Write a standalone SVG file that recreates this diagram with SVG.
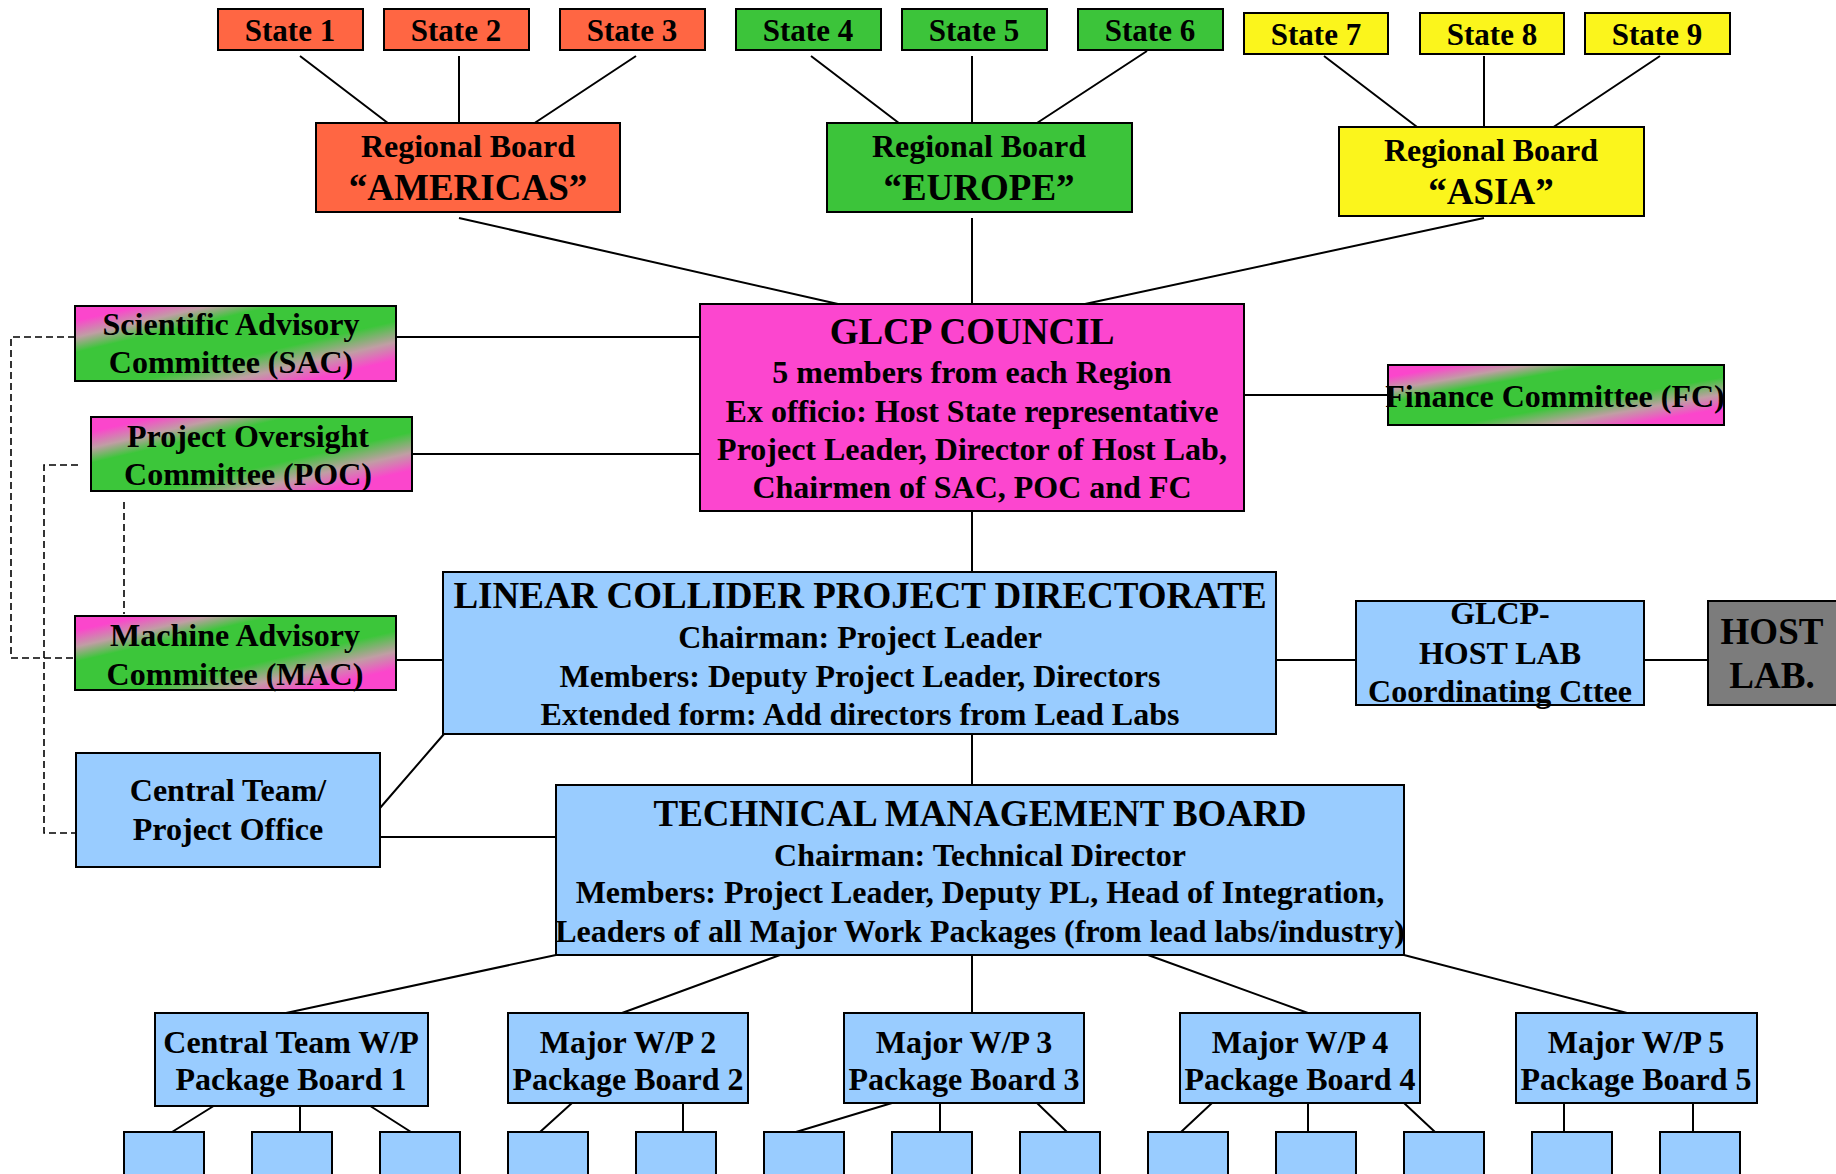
<svg xmlns="http://www.w3.org/2000/svg" width="1836" height="1174" viewBox="0 0 1836 1174">
  <style>
    rect { stroke: #000; stroke-width: 2; }
    .red { fill: #ff6643; }
    .grn { fill: #3cc43a; }
    .yel { fill: #fbf51c; }
    .pnk { fill: #fc46cf; }
    .blu { fill: #99ccff; }
    .gry { fill: #7c7c7c; }
    .mix { fill: url(#pinkGreen); }
    text { font-family: "Liberation Serif", "Times New Roman", serif; font-weight: bold; fill: #000; text-anchor: middle; }
    .s { font-size: 31px; }
    .b { font-size: 32px; }
    .t { font-size: 37px; }
    .ln { stroke: #000; stroke-width: 2; fill: none; }
    .dash { stroke: #000; stroke-width: 1.6; fill: none; stroke-dasharray: 7 4; }
  </style>
  <defs>
    <!-- diagonal pink / green / pink banding used by the committees -->
    <linearGradient id="pinkGreen" x1="0" y1="0" x2="1" y2="1">
      <stop offset="0" stop-color="#fb46cc"/>
      <stop offset="0.1" stop-color="#fb46cc"/>
      <stop offset="0.21" stop-color="#c09ea4"/>
      <stop offset="0.31" stop-color="#3cc63a"/>
      <stop offset="0.6" stop-color="#3cc63a"/>
      <stop offset="0.74" stop-color="#c09ea4"/>
      <stop offset="0.86" stop-color="#fb46cc"/>
      <stop offset="1" stop-color="#fb46cc"/>
    </linearGradient>
  </defs>

  <!-- connectors -->
  <g id="connectors">
    <!-- states to regional boards -->
    <path class="ln" d="M300,56 L397,130 M459,56 V130 M636,56 L524,130"/>
    <path class="ln" d="M811,56 L908,130 M972,56 V130 M1147,51 L1037,123"/>
    <path class="ln" d="M1324,56 L1421,130 M1484,56 V130 M1660,56 L1549,130"/>
    <!-- regional boards to council -->
    <path class="ln" d="M459,218 L838,304 M972,218 V304 M1484,218 L1085,304"/>
    <!-- committees to council -->
    <path class="ln" d="M396,337 H700 M395,454 H700 M1244,395 H1388"/>
    <!-- council to directorate, directorate links -->
    <path class="ln" d="M972,511 V572 M396,660 H443 M1276,660 H1356 M1644,660 H1708"/>
    <!-- directorate / central team / TMB -->
    <path class="ln" d="M380,808 L444,734 M380,837 H556 M972,734 V785"/>
    <!-- TMB to work packages -->
    <path class="ln" d="M556,955 L286,1013 M780,955 L622,1013 M972,955 V1013 M1148,955 L1308,1013 M1404,955 L1627,1013"/>
    <!-- work packages to sub-packages -->
    <path class="ln" d="M220,1102 L172,1132 M300,1102 V1132 M364,1102 L411,1132"/>
    <path class="ln" d="M572,1103 L540,1132 M683,1103 V1132"/>
    <path class="ln" d="M892,1103 L796,1132 M940,1093 V1132 M1037,1103 L1067,1132"/>
    <path class="ln" d="M1212,1103 L1181,1132 M1308,1103 V1132 M1404,1103 L1435,1132"/>
    <path class="ln" d="M1564,1103 V1132 M1693,1103 V1132"/>
    <!-- advisory dotted links -->
    <path class="dash" d="M75,337 H11 V658 H75"/>
    <path class="dash" d="M78,465 H44 V833 H76"/>
    <path class="dash" d="M124,502 V614"/>
  </g>

  <!-- states -->
  <g id="state1"><rect class="red" x="218" y="9" width="145" height="41"/><text class="s" x="290" y="41">State 1</text></g>
  <g id="state2"><rect class="red" x="384" y="9" width="145" height="41"/><text class="s" x="456" y="41">State 2</text></g>
  <g id="state3"><rect class="red" x="560" y="9" width="145" height="41"/><text class="s" x="632" y="41">State 3</text></g>
  <g id="state4"><rect class="grn" x="736" y="9" width="145" height="41"/><text class="s" x="808" y="41">State 4</text></g>
  <g id="state5"><rect class="grn" x="902" y="9" width="145" height="41"/><text class="s" x="974" y="41">State 5</text></g>
  <g id="state6"><rect class="grn" x="1078" y="9" width="145" height="41"/><text class="s" x="1150" y="41">State 6</text></g>
  <g id="state7"><rect class="yel" x="1244" y="13" width="144" height="41"/><text class="s" x="1316" y="45">State 7</text></g>
  <g id="state8"><rect class="yel" x="1420" y="13" width="144" height="41"/><text class="s" x="1492" y="45">State 8</text></g>
  <g id="state9"><rect class="yel" x="1585" y="13" width="145" height="41"/><text class="s" x="1657" y="45">State 9</text></g>

  <!-- regional boards -->
  <g id="board-americas"><rect class="red" x="316" y="123" width="304" height="89"/>
    <text class="b" x="468" y="157">Regional Board</text><text class="t" x="468" y="200">“AMERICAS”</text></g>
  <g id="board-europe"><rect class="grn" x="827" y="123" width="305" height="89"/>
    <text class="b" x="979" y="157">Regional Board</text><text class="t" x="979" y="200">“EUROPE”</text></g>
  <g id="board-asia"><rect class="yel" x="1339" y="127" width="305" height="89"/>
    <text class="b" x="1491" y="161">Regional Board</text><text class="t" x="1491" y="204">“ASIA”</text></g>

  <!-- council -->
  <g id="council"><rect class="pnk" x="700" y="304" width="544" height="207"/>
    <text class="t" x="972" y="344">GLCP COUNCIL</text>
    <text class="b" x="972" y="383">5 members from each Region</text>
    <text class="b" x="972" y="422">Ex officio: Host State representative</text>
    <text class="b" x="972" y="460">Project Leader, Director of Host Lab,</text>
    <text class="b" x="972" y="498">Chairmen of SAC, POC and FC</text></g>

  <!-- committees -->
  <g id="sac"><rect class="mix" x="75" y="306" width="321" height="75"/>
    <text class="b" x="231" y="335">Scientific Advisory</text><text class="b" x="231" y="373">Committee (SAC)</text></g>
  <g id="poc"><rect class="mix" x="91" y="417" width="321" height="74"/>
    <text class="b" x="248" y="447">Project Oversight</text><text class="b" x="248" y="485">Committee (POC)</text></g>
  <g id="mac"><rect class="mix" x="75" y="616" width="321" height="74"/>
    <text class="b" x="235" y="646">Machine Advisory</text><text class="b" x="235" y="685">Committee (MAC)</text></g>
  <g id="fc"><rect class="mix" x="1388" y="365" width="336" height="60"/>
    <text class="b" x="1555" y="407">Finance Committee (FC)</text></g>

  <!-- directorate -->
  <g id="directorate"><rect class="blu" x="443" y="572" width="833" height="162"/>
    <text class="t" x="860" y="608">LINEAR COLLIDER PROJECT DIRECTORATE</text>
    <text class="b" x="860" y="648">Chairman: Project Leader</text>
    <text class="b" x="860" y="687">Members: Deputy Project Leader, Directors</text>
    <text class="b" x="860" y="725">Extended form: Add directors from Lead Labs</text></g>

  <g id="host-coord"><rect class="blu" x="1356" y="601" width="288" height="104"/>
    <text class="b" x="1500" y="624">GLCP-</text>
    <text class="b" x="1500" y="664">HOST LAB</text>
    <text class="b" x="1500" y="702">Coordinating Cttee</text></g>

  <g id="host-lab"><rect class="gry" x="1708" y="601" width="140" height="104"/>
    <text class="t" x="1772" y="644">HOST</text>
    <text class="t" x="1772" y="688">LAB.</text></g>

  <g id="central-team"><rect class="blu" x="76" y="753" width="304" height="114"/>
    <text class="b" x="228" y="801">Central Team/</text>
    <text class="b" x="228" y="840">Project Office</text></g>

  <!-- technical management board -->
  <g id="tmb"><rect class="blu" x="556" y="785" width="848" height="170"/>
    <text class="t" x="980" y="826">TECHNICAL MANAGEMENT BOARD</text>
    <text class="b" x="980" y="866">Chairman: Technical Director</text>
    <text class="b" x="980" y="903">Members: Project Leader, Deputy PL, Head of Integration,</text>
    <text class="b" x="980" y="942">Leaders of all Major Work Packages (from lead labs/industry)</text></g>

  <!-- work package boards -->
  <g id="wp1"><rect class="blu" x="155" y="1013" width="273" height="93"/>
    <text class="b" x="291" y="1053">Central Team W/P</text><text class="b" x="291" y="1090">Package Board 1</text></g>
  <g id="wp2"><rect class="blu" x="508" y="1013" width="240" height="90"/>
    <text class="b" x="628" y="1053">Major W/P 2</text><text class="b" x="628" y="1090">Package Board 2</text></g>
  <g id="wp3"><rect class="blu" x="844" y="1013" width="240" height="90"/>
    <text class="b" x="964" y="1053">Major W/P 3</text><text class="b" x="964" y="1090">Package Board 3</text></g>
  <g id="wp4"><rect class="blu" x="1180" y="1013" width="240" height="90"/>
    <text class="b" x="1300" y="1053">Major W/P 4</text><text class="b" x="1300" y="1090">Package Board 4</text></g>
  <g id="wp5"><rect class="blu" x="1516" y="1013" width="241" height="90"/>
    <text class="b" x="1636" y="1053">Major W/P 5</text><text class="b" x="1636" y="1090">Package Board 5</text></g>

  <!-- sub-package boxes -->
  <g id="sub1"><rect class="blu" x="124" y="1132" width="80" height="60"/></g>
  <g id="sub2"><rect class="blu" x="252" y="1132" width="80" height="60"/></g>
  <g id="sub3"><rect class="blu" x="380" y="1132" width="80" height="60"/></g>
  <g id="sub4"><rect class="blu" x="508" y="1132" width="80" height="60"/></g>
  <g id="sub5"><rect class="blu" x="636" y="1132" width="80" height="60"/></g>
  <g id="sub6"><rect class="blu" x="764" y="1132" width="80" height="60"/></g>
  <g id="sub7"><rect class="blu" x="892" y="1132" width="80" height="60"/></g>
  <g id="sub8"><rect class="blu" x="1020" y="1132" width="80" height="60"/></g>
  <g id="sub9"><rect class="blu" x="1148" y="1132" width="80" height="60"/></g>
  <g id="sub10"><rect class="blu" x="1276" y="1132" width="80" height="60"/></g>
  <g id="sub11"><rect class="blu" x="1404" y="1132" width="80" height="60"/></g>
  <g id="sub12"><rect class="blu" x="1532" y="1132" width="80" height="60"/></g>
  <g id="sub13"><rect class="blu" x="1660" y="1132" width="80" height="60"/></g>
</svg>
